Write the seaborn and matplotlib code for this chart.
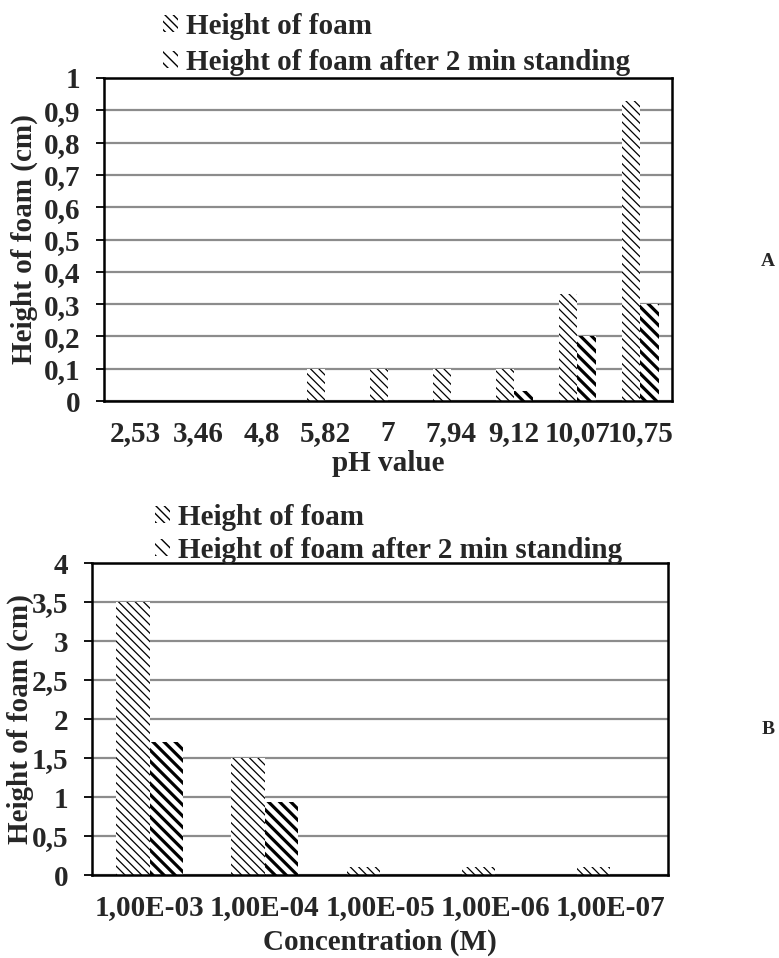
import numpy as np
import pandas as pd
import matplotlib
matplotlib.use("Agg")
import matplotlib.pyplot as plt
from matplotlib.patches import Patch
import seaborn as sns

# Panel A: foam height vs pH
ph_labels = ["2,53", "3,46", "4,8", "5,82", "7", "7,94", "9,12", "10,07", "10,75"]
ph_foam = [0, 0, 0, 0.1, 0.1, 0.1, 0.1, 0.33, 0.93]
ph_foam_2min = [0, 0, 0, 0, 0, 0, 0.03, 0.2, 0.3]

# Panel B: foam height vs concentration
conc_labels = ["1,00E-03", "1,00E-04", "1,00E-05", "1,00E-06", "1,00E-07"]
conc_foam = [3.5, 1.5, 0.1, 0.1, 0.1]
conc_foam_2min = [1.7, 0.93, 0, 0, 0]

series_names = ["Height of foam", "Height of foam after 2 min standing"]
yticks_a = ["0", "0,1", "0,2", "0,3", "0,4", "0,5", "0,6", "0,7", "0,8", "0,9", "1"]
yticks_b = ["0", "0,5", "1", "1,5", "2", "2,5", "3", "3,5", "4"]

sns.set_theme(style="white")
plt.rcParams["font.family"] = ["Liberation Serif", "DejaVu Serif"]
plt.rcParams["font.weight"] = "bold"
plt.rcParams["axes.labelweight"] = "bold"

FS = 21
HATCHES = ["\\\\\\\\", "\\\\\\"]
HATCH_LW = [0.9, 2.3]

W, H = 779, 958
fig = plt.figure(figsize=(W / 100, H / 100), dpi=100)


def px_axes(left, top, right, bottom):
    return fig.add_axes([left / W, 1 - bottom / H, (right - left) / W, (bottom - top) / H])


def style_bars(ax):
    for container, hatch, hlw in zip(ax.containers, HATCHES, HATCH_LW):
        for p in container.patches:
            p.set_facecolor("white")
            p.set_edgecolor("black")
            p.set_linewidth(0)
            p.set_hatch(hatch)
            if hasattr(p, "set_hatch_linewidth"):
                p.set_hatch_linewidth(hlw)


def legend_handles():
    hs = []
    for hatch, hlw, name in zip(HATCHES, HATCH_LW, series_names):
        h = Patch(facecolor="white", edgecolor="black", linewidth=0, hatch=hatch, label=name)
        if hasattr(h, "set_hatch_linewidth"):
            h.set_hatch_linewidth(hlw)
        hs.append(h)
    return hs


def panel(ax, cats, v1, v2, ymax, ystep, ylabels, xlabel, ylabel_x):
    df = pd.DataFrame({
        "cat": cats * 2,
        "value": v1 + v2,
        "series": [series_names[0]] * len(cats) + [series_names[1]] * len(cats),
    })
    sns.barplot(data=df, x="cat", y="value", hue="series", order=cats,
                hue_order=series_names, palette=["white", "white"],
                width=0.58, gap=0, ax=ax, legend=False, errorbar=None)
    style_bars(ax)
    ax.set_ylim(0, ymax)
    ax.set_xlim(-0.5, len(cats) - 0.5)
    ticks = np.arange(0, ymax + ystep / 2, ystep)
    ax.set_yticks(ticks)
    ax.set_yticklabels(ylabels, fontsize=FS, fontweight="bold")
    ax.set_xticks(range(len(cats)))
    ax.set_xticklabels(cats, fontsize=FS, fontweight="bold")
    ax.yaxis.grid(True, color="#8c8c8c", linewidth=1.6)
    ax.set_axisbelow(True)
    for s in ax.spines.values():
        s.set_visible(True)
        s.set_color("black")
        s.set_linewidth(1.8)
    ax.tick_params(axis="y", left=True, length=6, width=1.3, color="black", pad=11)
    ax.tick_params(axis="x", bottom=False, length=0, pad=14)
    ax.set_xlabel(xlabel, fontsize=FS, fontweight="bold", labelpad=2)
    ax.set_ylabel("Height of foam (cm)", fontsize=FS, fontweight="bold")
    ax.yaxis.set_label_coords(ylabel_x, 0.5)


ax_a = px_axes(104, 78, 672, 401)
panel(ax_a, ph_labels, ph_foam, ph_foam_2min, 1.0, 0.1, yticks_a, "pH value", -0.116)

ax_b = px_axes(92, 563, 668, 875)
panel(ax_b, conc_labels, conc_foam, conc_foam_2min, 4.0, 0.5, yticks_b, "Concentration (M)", -0.1)
ax_b.xaxis.labelpad = 5

leg_kw = dict(loc="upper left", frameon=False, prop={"size": FS, "weight": "bold"},
              handlelength=0.5, handleheight=0.5, handletextpad=0.3,
              borderpad=0, borderaxespad=0)
fig.legend(handles=legend_handles(), bbox_to_anchor=(163 / W, 1 - 13 / H),
           labelspacing=0.3, **leg_kw)
fig.legend(handles=legend_handles(), bbox_to_anchor=(155 / W, 1 - 504 / H),
           labelspacing=0.2, **leg_kw)

fig.text(768 / W, 1 - 262 / H, "A", fontsize=14, fontweight="bold", ha="center", va="center")
fig.text(768 / W, 1 - 730 / H, "B", fontsize=14, fontweight="bold", ha="center", va="center")

fig.savefig("out.png", dpi=100, facecolor="white")
